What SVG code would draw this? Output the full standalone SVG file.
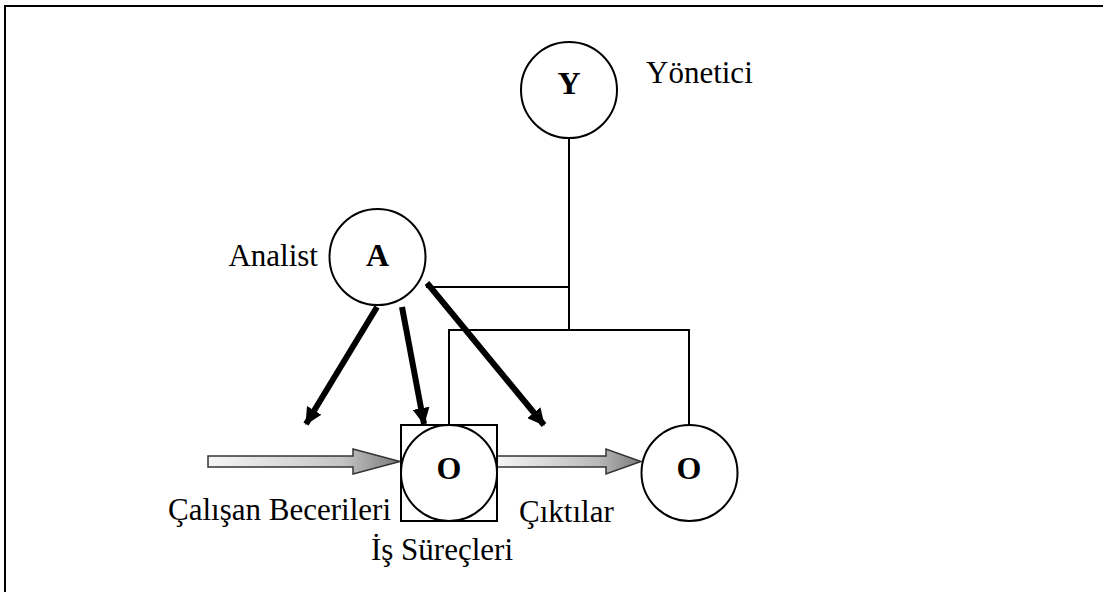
<svg xmlns="http://www.w3.org/2000/svg" width="1103" height="592" viewBox="0 0 1103 592">
  <defs>
    <style>
      .node { fill: #fff; stroke: #000; stroke-width: 2; }
      .letter { font-family: "Liberation Serif", "Times New Roman", serif; font-weight: bold; font-size: 32px; text-anchor: middle; fill: #000; }
      .label { font-family: "Liberation Serif", "Times New Roman", serif; font-size: 31px; fill: #000; }
      .wire { fill: none; stroke: #000; stroke-width: 2; }
      .thick { fill: none; stroke: #000; stroke-width: 6; marker-end: url(#head); }
      .flow { stroke: #333; stroke-width: 1.5; stroke-linejoin: miter; }
    </style>
    <marker id="head" viewBox="0 0 16 16" refX="15" refY="8" markerWidth="17" markerHeight="17" markerUnits="userSpaceOnUse" orient="auto">
      <path d="M0,0 L16,8 L0,16 Z" fill="#000"/>
    </marker>
    <linearGradient id="flowIn" gradientUnits="userSpaceOnUse" x1="208" y1="0" x2="400" y2="0">
      <stop offset="0" stop-color="#f6f6f6"/>
      <stop offset="0.7" stop-color="#c4c4c4"/>
      <stop offset="1" stop-color="#7a7a7a"/>
    </linearGradient>
    <linearGradient id="flowOut" gradientUnits="userSpaceOnUse" x1="497" y1="0" x2="642" y2="0">
      <stop offset="0" stop-color="#f6f6f6"/>
      <stop offset="0.7" stop-color="#b8b8b8"/>
      <stop offset="1" stop-color="#7a7a7a"/>
    </linearGradient>
  </defs>

  <rect width="1103" height="592" fill="#fff"/>

  <!-- outer frame: top and left edges -->
  <path d="M5,592 L5,6 L1103,6" fill="none" stroke="#000" stroke-width="2"/>

  <!-- connectors -->
  <g id="connectors">
    <path class="wire" d="M569,138 L569,330"/>
    <path class="wire" d="M426,287 L569,287"/>
    <path class="wire" d="M449,425 L449,330 L689,330 L689,425"/>
    <path class="thick" d="M377,307 L306,424"/>
    <path class="thick" d="M402,307 L424,424"/>
    <path class="thick" d="M427,283 L544,425"/>
    <path class="flow" fill="url(#flowIn)" d="M208,456 L353,456 L353,449 L400,461.5 L353,474 L353,467 L208,467 Z"/>
    <path class="flow" fill="url(#flowOut)" d="M497,456 L606,456 L606,449 L641,461.5 L606,474 L606,467 L497,467 Z"/>
  </g>

  <g id="node-yonetici">
    <circle class="node" cx="569" cy="90" r="48"/>
    <text class="letter" x="569" y="94">Y</text>
    <text class="label" x="646" y="83">Yönetici</text>
  </g>

  <g id="node-analist">
    <circle class="node" cx="377.5" cy="257" r="48"/>
    <text class="letter" x="377.5" y="266">A</text>
    <text class="label" x="318" y="266" text-anchor="end">Analist</text>
  </g>

  <g id="node-surec">
    <rect class="node" x="401" y="425" width="96" height="96"/>
    <circle class="node" cx="449" cy="473" r="48"/>
    <text class="letter" x="449" y="479">O</text>
    <text class="label" x="513" y="560" text-anchor="end">İş Süreçleri</text>
  </g>

  <g id="node-cikti">
    <circle class="node" cx="689.5" cy="473" r="48"/>
    <text class="letter" x="689" y="479">O</text>
  </g>

  <g id="labels">
    <text class="label" x="391" y="520" text-anchor="end">Çalışan Becerileri</text>
    <text class="label" x="519" y="522">Çıktılar</text>
  </g>
</svg>
